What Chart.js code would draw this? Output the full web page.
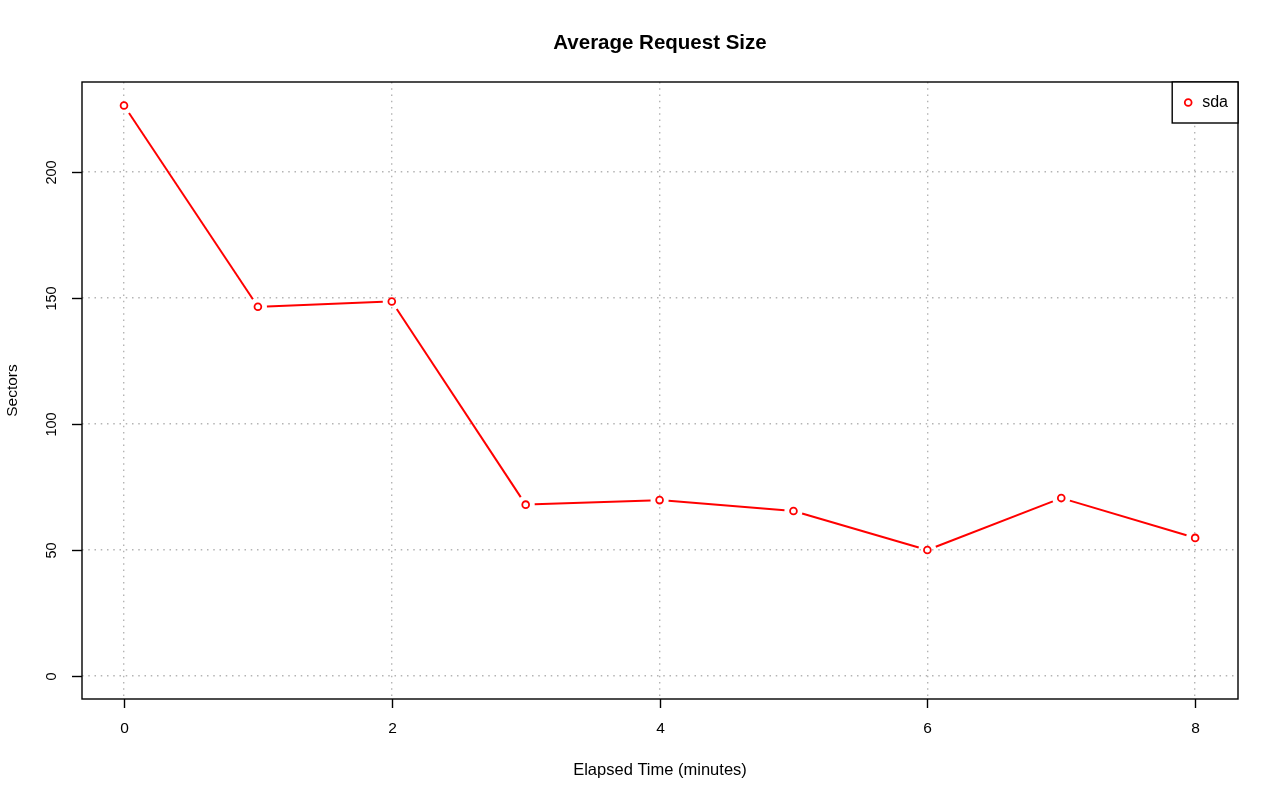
<!DOCTYPE html>
<html>
<head>
<meta charset="utf-8">
<script src="https://cdn.jsdelivr.net/npm/chart.js@4"></script>
<style>
  html, body { margin: 0; padding: 0; background: #ffffff; }
  canvas { display: block; }
</style>
</head>
<body>
<canvas id="chart" width="1280" height="801"></canvas>
<script>
/* --------------- Data --------------------- */
const minutes = [0, 1, 2, 3, 4, 5, 6, 7, 8];
const sda = [226.4, 146.5, 148.6, 68.0, 69.8, 65.5, 50.0, 70.6, 54.8];
const xTicks = [0, 2, 4, 6, 8];
const yTicks = [0, 50, 100, 150, 200];
const seriesName = "sda";

const RED = "#ff0000";
const FONT = "'Liberation Sans', Arial, Helvetica, sans-serif";

/* --------------- R-style decorations --------------------- */
const rPlot = {
  id: "rPlot",
  // type="b": line segments with a gap around every point
  beforeDatasetsDraw(chart) {
    const ctx = chart.ctx;
    const pts = chart.getDatasetMeta(0).data;
    const gap = 9;
    ctx.save();
    ctx.strokeStyle = RED;
    ctx.lineWidth = 2;
    for (let i = 0; i < pts.length - 1; i++) {
      const a = pts[i], b = pts[i + 1];
      const dx = b.x - a.x, dy = b.y - a.y;
      const len = Math.hypot(dx, dy);
      if (len <= gap * 2) continue;
      const ux = dx / len, uy = dy / len;
      ctx.beginPath();
      ctx.moveTo(a.x + ux * gap, a.y + uy * gap);
      ctx.lineTo(b.x - ux * gap, b.y - uy * gap);
      ctx.stroke();
    }
    ctx.restore();
  },
  afterDraw(chart) {
    const ctx = chart.ctx;
    const area = chart.chartArea;
    const xs = chart.scales.x, ys = chart.scales.y;
    ctx.save();
    ctx.strokeStyle = "#000000";
    ctx.fillStyle = "#000000";
    ctx.lineWidth = 1.4;
    // box
    ctx.strokeRect(area.left, area.top, area.right - area.left, area.bottom - area.top);
    ctx.textAlign = "center";
    ctx.textBaseline = "middle";
    // x ticks + labels
    ctx.font = "15.5px " + FONT;
    xTicks.forEach((v) => {
      const px = Math.round(xs.getPixelForValue(v)) + 0.5;
      ctx.beginPath();
      ctx.moveTo(px, area.bottom);
      ctx.lineTo(px, area.bottom + 9);
      ctx.stroke();
      ctx.fillText(String(v), px, area.bottom + 30);
    });
    // y ticks + labels (rotated like R)
    ctx.font = "14.5px " + FONT;
    yTicks.forEach((v) => {
      const py = Math.round(ys.getPixelForValue(v)) + 0.5;
      ctx.beginPath();
      ctx.moveTo(area.left, py);
      ctx.lineTo(area.left - 10, py);
      ctx.stroke();
      ctx.save();
      ctx.translate(area.left - 30, py);
      ctx.rotate(-Math.PI / 2);
      ctx.fillText(String(v), 0, 0);
      ctx.restore();
    });
    // axis titles
    const cx = (area.left + area.right) / 2;
    const cy = (area.top + area.bottom) / 2;
    ctx.font = "16.5px " + FONT;
    ctx.fillText("Elapsed Time (minutes)", cx, area.bottom + 71);
    ctx.font = "15.5px " + FONT;
    ctx.save();
    ctx.translate(13, cy);
    ctx.rotate(-Math.PI / 2);
    ctx.fillText("Sectors", 0, 0);
    ctx.restore();
    // main title
    ctx.font = "bold 20.5px " + FONT;
    ctx.fillText("Average Request Size", cx, 43);
    // legend
    ctx.font = "16px " + FONT;
    const tw = ctx.measureText(seriesName).width;
    const lw = tw + 40, lh = 41;
    const lx = area.right - lw, ly = area.top;
    ctx.fillStyle = "#ffffff";
    ctx.fillRect(lx, ly, lw, lh);
    ctx.strokeRect(lx, ly, lw, lh);
    ctx.fillStyle = "#000000";
    ctx.textAlign = "left";
    ctx.fillText(seriesName, lx + 30, ly + lh / 2);
    ctx.beginPath();
    ctx.arc(lx + 16, ly + lh / 2, 3.4, 0, Math.PI * 2);
    ctx.fillStyle = "#ffffff";
    ctx.fill();
    ctx.strokeStyle = RED;
    ctx.lineWidth = 1.8;
    ctx.stroke();
    ctx.restore();
  },
};

/* --------------- Chart --------------------- */
const gridOpts = {
  color: "#b4b4b4",
  lineWidth: 1.4,
  drawTicks: false,
};

new Chart(document.getElementById("chart"), {
  type: "scatter",
  plugins: [rPlot],
  data: {
    datasets: [
      {
        label: seriesName,
        data: minutes.map((m, i) => ({ x: m, y: sda[i] })),
        showLine: false,
        pointRadius: 3.4,
        pointHoverRadius: 3.4,
        pointBorderWidth: 1.8,
        pointBorderColor: RED,
        pointBackgroundColor: "#ffffff",
      },
    ],
  },
  options: {
    responsive: false,
    devicePixelRatio: 1,
    animation: false,
    events: [],
    layout: { padding: { left: 82, right: 42, top: 82, bottom: 102 } },
    plugins: {
      legend: { display: false },
      tooltip: { enabled: false },
      title: { display: false },
    },
    scales: {
      x: {
        type: "linear",
        min: -0.3137,
        max: 8.32,
        afterBuildTicks: (s) => { s.ticks = xTicks.map((v) => ({ value: v })); },
        afterFit: (s) => { s.height = 0; },
        ticks: { display: false },
        grid: gridOpts,
        border: { display: false, dash: [1.5, 4.75] },
      },
      y: {
        type: "linear",
        min: -9.13,
        max: 235.71,
        afterBuildTicks: (s) => { s.ticks = yTicks.map((v) => ({ value: v })); },
        afterFit: (s) => { s.width = 0; },
        ticks: { display: false },
        grid: gridOpts,
        border: { display: false, dash: [1.5, 4.75] },
      },
    },
  },
});
</script>
</body>
</html>
